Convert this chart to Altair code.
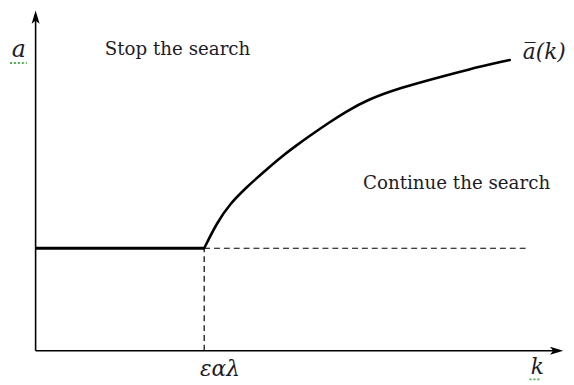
import altair as alt
import pandas as pd

# ---- data (schematic units: k along horizontal axis, a along vertical axis) ----
curve_k = [171, 184, 197, 214, 231, 247, 264, 281, 297, 314, 337, 371, 404, 437, 481]
curve_a = [104, 130, 149, 166, 181, 195, 208, 220, 231, 242, 255, 267, 276, 285, 295]

flat_k = [0, 171]
flat_a = [104, 104]

threshold_k = 171          # εαλ
threshold_a = 104
dash_end_k = 499

k_max = 535
a_max = 345

label_text = ["Stop the search", "Continue the search"]
label_k = [144, 427]
label_a = [306, 170]

math_text = ["a", "a\u0305(k)", "\u03b5\u03b1\u03bb", "k"]
math_k = [-17, 516, 187, 509]
math_a = [305, 303, -19, -17]
math_size = [24, 22, 22, 22]

# spell-check underlines seen under "a" and "k"
squiggle_k = [-26, 501]
squiggle_k2 = [-9, 512]
squiggle_a = [292, -29]

FONT = "DejaVu Serif"

curve_df = pd.DataFrame({"k": curve_k, "a": curve_a})
flat_df = pd.DataFrame({"k": flat_k, "a": flat_a})
hdash_df = pd.DataFrame({"k": [threshold_k], "k2": [dash_end_k], "a": [threshold_a]})
vdash_df = pd.DataFrame({"k": [threshold_k], "a": [0], "a2": [threshold_a]})
axes_df = pd.DataFrame({"k": [0, 0], "k2": [0, k_max - 4], "a": [0, 0], "a2": [a_max - 4, 0]})
labels_df = pd.DataFrame({"t": label_text, "k": label_k, "a": label_a})
math_df = pd.DataFrame({"t": math_text, "k": math_k, "a": math_a, "s": math_size})
squig_df = pd.DataFrame({"k": squiggle_k, "k2": squiggle_k2, "a": squiggle_a})
arrow_up_df = pd.DataFrame({"k": [0], "a": [a_max - 6.5]})
arrow_right_df = pd.DataFrame({"k": [k_max - 6.5], "a": [0]})

xs = alt.Scale(domain=[0, k_max], nice=False, zero=False)
ys = alt.Scale(domain=[0, a_max], nice=False, zero=False)
X = lambda f="k": alt.X(f, type="quantitative", scale=xs, axis=None)
Y = lambda f="a": alt.Y(f, type="quantitative", scale=ys, axis=None)

axes = alt.Chart(axes_df).mark_rule(color="black", strokeWidth=1.6).encode(
    x=X(), x2="k2", y=Y(), y2="a2")

arrow_up = alt.Chart(arrow_up_df).mark_point(
    shape="M0,-1L0.6,1L0,0.55L-0.6,1Z", size=180, filled=True, color="black", opacity=1
).encode(x=X(), y=Y())
arrow_right = alt.Chart(arrow_right_df).mark_point(
    shape="M1,0L-1,-0.6L-0.55,0L-1,0.6Z", size=180, filled=True, color="black", opacity=1
).encode(x=X(), y=Y())

hdash = alt.Chart(hdash_df).mark_rule(color="black", strokeWidth=1.2, strokeDash=[6, 4]).encode(
    x=X(), x2="k2", y=Y())
vdash = alt.Chart(vdash_df).mark_rule(color="black", strokeWidth=1.2, strokeDash=[6, 4]).encode(
    x=X(), y=Y(), y2="a2")

flat = alt.Chart(flat_df).mark_line(color="black", strokeWidth=3).encode(x=X(), y=Y())
curve = alt.Chart(curve_df).mark_line(
    color="black", strokeWidth=2.6, interpolate="basis", strokeCap="round"
).encode(x=X(), y=Y())

labels = alt.Chart(labels_df).mark_text(
    font=FONT, fontSize=18.5, color="#1c1c28", align="center", baseline="middle"
).encode(x=X(), y=Y(), text="t:N")

maths = alt.Chart(math_df).mark_text(
    font=FONT, fontStyle="italic", color="#1c1c28", align="center", baseline="middle"
).encode(x=X(), y=Y(), text="t:N",
         size=alt.Size("s:Q", scale=None, legend=None))

squig = alt.Chart(squig_df).mark_rule(color="#4caf50", strokeWidth=2, strokeDash=[2, 2]).encode(
    x=X(), x2="k2", y=Y())

chart = alt.layer(axes, hdash, vdash, flat, curve, arrow_up, arrow_right, labels, maths, squig).properties(
    width=k_max, height=a_max,
    padding={"left": 28, "top": 0, "right": 3, "bottom": 30},
    autosize="none",
    background="white",
).configure_view(stroke=None)

chart.save("out.html", embed_options={"renderer": "svg", "actions": False})
